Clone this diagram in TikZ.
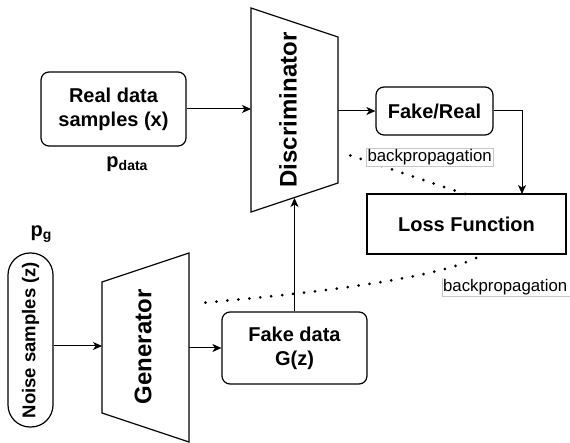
\documentclass[tikz,border=0pt]{standalone}
\usepackage{fontspec}
\setmainfont{Liberation Sans}
\usetikzlibrary{arrows.meta}
\begin{document}
\begin{tikzpicture}[x=1pt,y=-1pt,
  outline/.style={draw, line width=1.2pt},
  box/.style={outline, rounded corners=8pt, align=center, inner sep=0pt,
    font=\fontsize{20}{24}\selectfont\bfseries},
  arr/.style={-{Stealth[length=9pt,width=8pt,inset=2.5pt]}, line width=1pt},
  dots/.style={line width=3pt, line cap=round, dash pattern=on 0pt off 11pt},
  bplabel/.style={draw=black!22, line width=0.6pt, fill=white, inner sep=1.2pt,
    font=\fontsize{16.8}{19}\selectfont},
  bigtext/.style={font=\fontsize{24}{28}\selectfont\bfseries, rotate=90},
  plabel/.style={font=\fontsize{20}{24}\selectfont\bfseries, inner sep=0pt}]
\useasboundingbox (0,0) rectangle (570,443);

% Discriminator trapezoid
\draw[outline] (251,8) -- (338,37) -- (338,183) -- (251,212) -- cycle;
\node[bigtext] (disc) at (288,110) {Discriminator};
\coordinate (dIn) at (251,109);
\coordinate (dOut) at (338,111);
\coordinate (dBot) at (294.5,198);

% Generator trapezoid
\draw[outline] (102,282) -- (189,253) -- (189,442) -- (102,413) -- cycle;
\node[bigtext] (gen) at (143,347) {Generator};
\coordinate (gIn) at (102,346);
\coordinate (gOut) at (189,348);

% Boxes
\node[box, minimum width=145, minimum height=74] (real) at (113.5,109) {Real data\\samples (x)};
\node[box, minimum width=117, minimum height=48] (fakereal) at (434.5,111) {Fake/Real};
\node[box, rounded corners=0pt, minimum width=199, minimum height=60] (loss) at (466.5,224) {Loss Function};
\node[box, minimum width=145, minimum height=72] (fake) at (294.5,348) {Fake data\\G(z)};
\node[box, rotate=90, rounded corners=22pt, minimum width=174, minimum height=45,
  font=\fontsize{18.5}{22}\selectfont\bfseries] (noise) at (30.5,340) {Noise samples (z)};
\coordinate (lossIn) at (522,194);

% p labels
\node[plabel] (pdata) at (127,164) {p\raisebox{-3pt}{\fontsize{14}{14}\selectfont data}};
\node[plabel] (pg) at (41,234) {p\raisebox{-3pt}{\fontsize{14}{14}\selectfont g}};

% Arrows
\draw[arr] (real.east) -- (dIn);
\draw[arr] (dOut) -- (fakereal.west);
\draw[arr] (fakereal.east) -| (lossIn);
\draw[arr] (noise.south |- gIn) -- (gIn);
\draw[arr] (gOut) -- (fake.west);
\draw[arr] (fake.north) -- (dBot);

% Backpropagation dotted lines
\coordinate (bp1a) at (465,194);
\coordinate (bp1b) at (343,153);
\draw[dots] (bp1a) -- (bp1b);
\node[bplabel, anchor=west] (bp1) at (366,157.5) {backpropagation};

\coordinate (bp2a) at (476,258);
\coordinate (bp2b) at (200,303);
\draw[dots] (bp2a) .. controls (440,276) and (340,291) .. (bp2b);
\node[bplabel, draw=none, anchor=west, inner xsep=0.8pt] (bp2) at (442,287) {backpropagation};
\draw[draw=black!22, line width=0.6pt] (bp2.north west) -- (bp2.south west) -- ++(140,0);
\end{tikzpicture}
\end{document}
